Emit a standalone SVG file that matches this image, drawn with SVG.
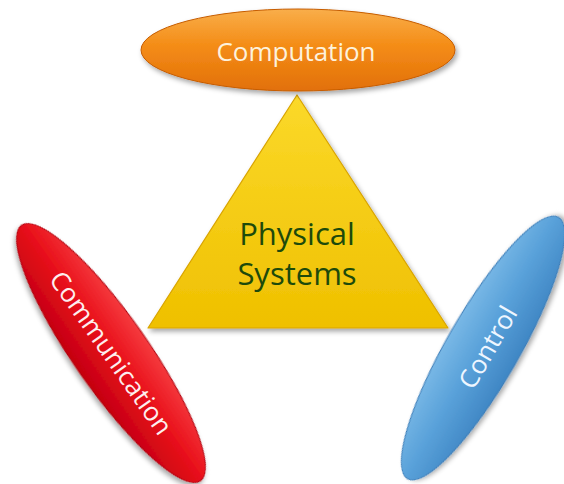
<svg xmlns="http://www.w3.org/2000/svg" width="564" height="484" viewBox="0 0 564 484">
<defs>
  <style>
    .lbl { font-family: "Open Sans", "Liberation Sans", sans-serif; font-size: 26px; text-anchor: middle; }
    .phys { font-family: "Open Sans", "Liberation Sans", sans-serif; font-size: 31px; text-anchor: middle; fill: #1d4a0b; }
  </style>
  <filter id="shadow" x="-20%" y="-20%" width="140%" height="140%">
    <feDropShadow dx="2" dy="3" stdDeviation="2.5" flood-color="#000" flood-opacity="0.35"/>
  </filter>
  <linearGradient id="gOrange" x1="0" y1="0" x2="0" y2="1">
    <stop offset="0" stop-color="#f9ae4a"/>
    <stop offset="0.45" stop-color="#f48c16"/>
    <stop offset="1" stop-color="#e2700a"/>
  </linearGradient>
  <linearGradient id="gYellow" x1="0" y1="0" x2="0" y2="1">
    <stop offset="0" stop-color="#fbd92a"/>
    <stop offset="1" stop-color="#efc000"/>
  </linearGradient>
  <linearGradient id="gRed" x1="0" y1="0" x2="0" y2="1">
    <stop offset="0" stop-color="#f53a3e"/>
    <stop offset="0.45" stop-color="#e9111b"/>
    <stop offset="1" stop-color="#c40010"/>
  </linearGradient>
  <linearGradient id="gBlue" x1="0" y1="0" x2="0" y2="1">
    <stop offset="0" stop-color="#79b8e6"/>
    <stop offset="0.45" stop-color="#5aa2da"/>
    <stop offset="1" stop-color="#3f86c4"/>
  </linearGradient>
</defs>
<rect width="564" height="484" fill="#ffffff"/>

<g id="physical-systems">
  <polygon points="297,95 448,328 148,328" fill="url(#gYellow)" stroke="#d9a400" stroke-width="1.2" stroke-linejoin="round" filter="url(#shadow)"/>
  <text class="phys" x="297" y="245">Physical</text>
  <text class="phys" x="297" y="285">Systems</text>
</g>

<g id="computation">
  <ellipse cx="298" cy="50" rx="157" ry="41" fill="url(#gOrange)" stroke="#c65c00" stroke-width="1" filter="url(#shadow)"/>
  <text class="lbl" x="296" y="61" fill="#fdf2dc">Computation</text>
</g>

<g id="communication" transform="translate(111,353) rotate(55)">
  <ellipse cx="0" cy="0" rx="156" ry="37" fill="url(#gRed)" stroke="#b0000c" stroke-width="1" filter="url(#shadow)"/>
  <text class="lbl" x="0" y="9" fill="#fdeeee">Communication</text>
</g>

<g id="control" transform="translate(483,348) rotate(-60)">
  <ellipse cx="0" cy="0" rx="151" ry="36" fill="url(#gBlue)" stroke="#3a7cb8" stroke-width="1" filter="url(#shadow)"/>
  <text class="lbl" x="3" y="13" fill="#eef6ff">Control</text>
</g>
</svg>
